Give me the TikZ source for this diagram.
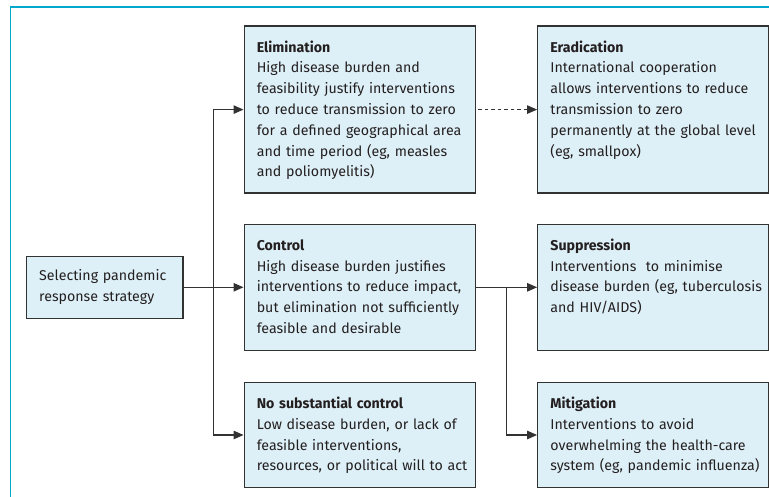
\documentclass[tikz,border=0pt]{standalone}
\usepackage{fontspec}
\setmainfont{Fira Sans}
\usetikzlibrary{positioning,arrows.meta}
\definecolor{boxfill}{RGB}{222,240,247}
\definecolor{boxline}{RGB}{50,50,50}
\definecolor{framecyan}{RGB}{0,168,204}
\definecolor{inkgray}{RGB}{35,31,32}
% heading plus lines, kept unbroken
\newcommand{\stagebody}[2]{\begin{tabular}[t]{@{}l@{}}\textbf{#1}\\#2\end{tabular}}

\begin{document}
\begin{tikzpicture}[x=1pt, y=-1pt, >={Triangle[length=10pt,width=8.5pt]},
  font=\fontsize{14.2}{20.8}\selectfont, text=inkgray]
\tikzstyle{stage}=[rectangle,draw=boxline,fill=boxfill,line width=1.2pt,align=left,anchor=north west,text width=206pt,inner xsep=12.7pt,inner ysep=14pt,text height=12pt]
\tikzstyle{start}=[rectangle,draw=boxline,fill=boxfill,line width=1.2pt,align=left,text width=131pt,inner xsep=12.7pt,minimum height=62pt]
\tikzstyle{link}=[->,line width=1.2pt,draw=boxline]

\useasboundingbox (0,0) rectangle (769,497);
\draw[framecyan, line width=1.5pt] (10.5,497) -- (10.5,7.2) -- (769,7.2);

% middle column
\node[stage, text depth=127pt](elim) at (243.5,25.5) {\stagebody{Elimination}{High disease burden and\\feasibility justify interventions\\to reduce transmission to zero\\for a defined geographical area\\and time period (eg, measles\\and poliomyelitis)}};
\node[stage, text depth=86pt](ctrl)[below=30pt of elim] {\stagebody{Control}{High disease burden justifies\\interventions to reduce impact,\\but elimination not sufficiently\\feasible and desirable}};
\node[stage, text depth=65pt](nosub)[below=31pt of ctrl] {\stagebody{No substantial control}{Low disease burden, or lack of\\feasible interventions,\\resources, or political will to act}};

% right column
\node[stage, text depth=127pt, text width=205pt](erad)[right=61pt of elim] {\stagebody{Eradication}{International cooperation\\allows interventions to reduce\\transmission to zero\\permanently at the global level\\(eg, smallpox)}}
  edge [<-, draw=boxline, line width=0.9pt, dash pattern=on 3.5pt off 3pt] (elim);
\node[stage, text depth=86pt, text width=205pt](supp)[right=61pt of ctrl] {\stagebody{Suppression}{Interventions\ \ to minimise\\disease burden (eg, tuberculosis\\and HIV/AIDS)}};
\node[stage, text depth=65pt, text width=205pt](mitig)[right=61pt of nosub] {\stagebody{Mitigation}{Interventions to avoid\\overwhelming the health-care\\system (eg, pandemic influenza)}};

% start
\node[start](sel)[left=60pt of ctrl] {Selecting pandemic\\response strategy};

\path (sel.east) -- (ctrl.west) coordinate[midway] (fork);
\path (ctrl.east) -- (supp.west) coordinate[midway] (branch);

\draw[link] (sel) -- (ctrl);
\draw[link] (fork) |- (elim);
\draw[link] (fork) |- (nosub);
\draw[link] (ctrl) -- (supp);
\draw[link] (branch) |- (mitig);

\end{tikzpicture}
\end{document}
